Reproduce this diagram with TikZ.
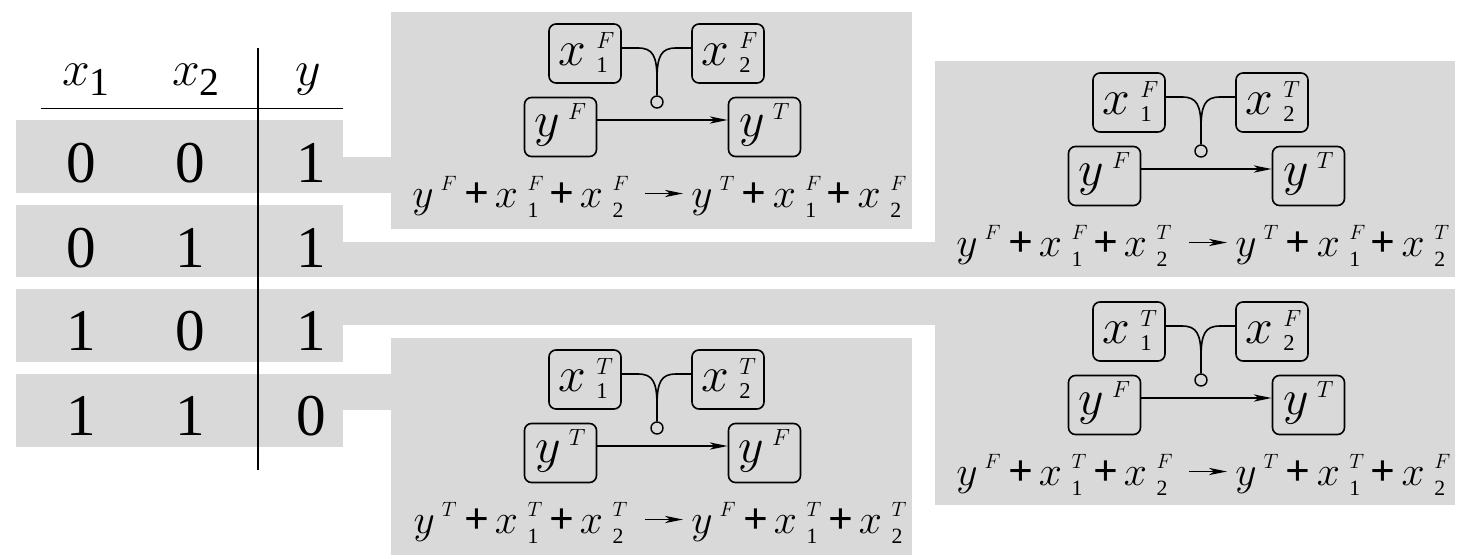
\documentclass[tikz,border=0pt]{standalone}
\usepackage{fontspec}
\setmainfont{Liberation Serif}
\usepackage{graphicx}
\usetikzlibrary{arrows.meta}
\definecolor{bg}{RGB}{217,217,217}
\newcommand{\sdrop}{0.15em}
\newcommand{\sraise}{0.35em}
\newcommand{\sscale}{0.47}
\newcommand{\sv}[3]{$#1$\hspace{0.22em}\makebox[0.32em][l]{\rlap{\raisebox{\sraise}{\scalebox{\sscale}{$#2$}}}\raisebox{-\sdrop}{\scalebox{\sscale}{#3}}}}
\newcommand{\svy}[2]{$#1$\hspace{0.16em}\raisebox{\sraise}{\scalebox{\sscale}{$#2$}}}
\newcommand{\pl}{\hspace{0.17em}\textbf{+}\hspace{0.14em}}
\tikzset{
  vn/.style={draw, rounded corners=3.5pt, line width=0.8pt, minimum width=36pt, minimum height=29.5pt,
    inner sep=0pt, text height=14.5pt, text depth=3pt, font=\fontsize{24}{28}\selectfont},
  yn/.style={vn, text height=14.5pt, text depth=5pt},
  junc/.style={draw, circle, line width=0.7pt, minimum size=6pt, inner sep=0pt},
  wire/.style={line width=0.8pt},
  arr/.style={line width=0.7pt, -{Stealth[length=9pt,width=3.6pt,inset=2.5pt]}},
  eqn/.style={inner sep=0pt, font={\fontsize{21.8}{26}\selectfont\renewcommand\sdrop{0.22em}\renewcommand\sraise{0.4em}\renewcommand\sscale{0.5}}},
  tab/.style={inner sep=0pt, anchor=base, font=\fontsize{29.6}{34}\selectfont},
  rule/.style={line width=0.7pt}
}
\newcommand{\panel}[7]{%
\begin{scope}[shift={(#2,#3)}]
  \node[vn] (#1a) at (194,41.5) {\sv{x}{#4}{1}};
  \node[vn] (#1b) at (337,41.5) {\sv{x}{#5}{2}};
  \node[yn] (#1c) at (169.5,115) {\svy{y}{#6}};
  \node[yn] (#1d) at (373.5,115) {\svy{y}{#7}};
  \node[junc] (#1o) at (266,90) {};
  \draw[wire] ([yshift=2.75pt]#1a.east) -- (247,36) .. controls (262,36) and (266,44) .. (266,68) -- (#1o.north);
  \draw[wire] ([yshift=2.75pt]#1b.west) -- (285,36) .. controls (270,36) and (266,44) .. (266,68);
  \draw[arr] ([yshift=3.5pt]#1c.east) -- ([yshift=3.5pt]#1d.west);
  \node[eqn, anchor=base east] (#1l) at (236,195.5) {\svy{y}{#6}\pl\sv{x}{#4}{1}\pl\sv{x}{#5}{2}};
  \node[eqn, anchor=base west] (#1r) at (300,195.5) {\svy{y}{#7}\pl\sv{x}{#4}{1}\pl\sv{x}{#5}{2}};
  \draw[arr] ([xshift=9pt,yshift=7pt]#1l.base east) -- ([xshift=-4pt,yshift=7pt]#1r.base west);
\end{scope}}
\begin{document}
\begin{tikzpicture}[x=0.5pt,y=-0.5pt]
\useasboundingbox (0,0) rectangle (1469,558);
% grey backgrounds
\fill[bg] (16,120) rectangle (343,193);
\fill[bg] (16,205) rectangle (343,277);
\fill[bg] (16,289) rectangle (343,362);
\fill[bg] (16,374) rectangle (343,447);
\fill[bg] (343,157) rectangle (391,193);
\fill[bg] (343,242) rectangle (935,277);
\fill[bg] (343,289) rectangle (935,325);
\fill[bg] (343,374) rectangle (391,410);
\fill[bg] (391,12) rectangle (912,229);
\fill[bg] (935,61) rectangle (1455,277);
\fill[bg] (935,289) rectangle (1455,505);
\fill[bg] (391,338) rectangle (912,555);
% table rules
\draw[rule] (41,108.5) -- (343,108.5);
\draw[rule] (258,48) -- (258,470);
% header
\node[tab] (h1) at (86,85) {$x$\raisebox{-0.17em}{\scalebox{0.67}{1}}};
\node[tab] (h2) at (196,85) {$x$\raisebox{-0.17em}{\scalebox{0.67}{2}}};
\node[tab] (h3) at (308,85) {$y$};
% rows
\node[tab] (r1a) at (81,182) {0}; \node[tab] (r1b) at (190,182) {0}; \node[tab] (r1c) at (311,182) {1};
\node[tab] (r2a) at (81,267) {0}; \node[tab] (r2b) at (190,267) {1}; \node[tab] (r2c) at (311,267) {1};
\node[tab] (r3a) at (81,350) {1}; \node[tab] (r3b) at (190,350) {0}; \node[tab] (r3c) at (311,350) {1};
\node[tab] (r4a) at (81,435) {1}; \node[tab] (r4b) at (190,435) {1}; \node[tab] (r4c) at (311,435) {0};
% panels
\panel{A}{391}{12}{F}{F}{F}{T}
\panel{B}{935}{61}{F}{T}{F}{T}
\panel{C}{935}{290}{T}{F}{F}{T}
\panel{D}{391}{338}{T}{T}{T}{F}
\end{tikzpicture}
\end{document}
